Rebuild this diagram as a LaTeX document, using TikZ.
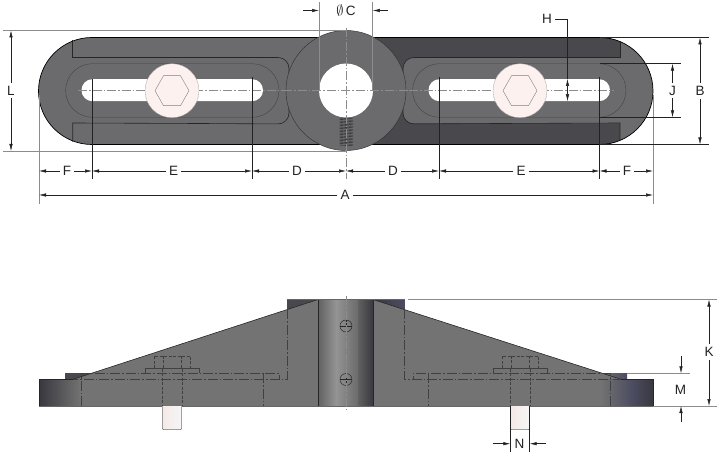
\documentclass[tikz,border=0pt]{standalone}
\usepackage{fontspec}
\setmainfont{Liberation Sans}
\usetikzlibrary{arrows.meta,positioning}
\definecolor{plategray}{HTML}{6B6B6D}
\definecolor{platedark}{HTML}{48484D}
\definecolor{sidegray}{HTML}{737373}
\definecolor{washerpink}{HTML}{FCF1EE}
\definecolor{extgray}{HTML}{8C8C8C}
\definecolor{inkgray}{HTML}{222222}
\definecolor{steelblue}{HTML}{4C4C62}
\definecolor{steeldark}{HTML}{38383F}
\tikzset{
  dimarrow/.style={-{Latex[length=7pt,width=3.4pt]},inkgray,line width=0.5pt},
  dimlabel/.style={text=inkgray,inner sep=3pt,font=\fontsize{13.5}{14}\selectfont},
  extline/.style={extgray,line width=0.8pt},
  tickline/.style={inkgray,line width=0.5pt},
  centerline/.style={black!45,line width=0.4pt,dash pattern=on 9pt off 2pt on 1.5pt off 2pt},
  hiddenline/.style={black!75,line width=0.4pt,dash pattern=on 10pt off 2pt on 1.5pt off 2pt},
  shortdash/.style={black!75,line width=0.4pt,dash pattern=on 3pt off 1.5pt},
  thinline/.style={black!75,line width=0.35pt},
  blockline/.style={black!85,line width=0.6pt}
}
\begin{document}
\begin{tikzpicture}[x=1pt,y=-1pt]
\useasboundingbox (0,0) rectangle (719,454);

% top view
\begin{scope}
\clip[rounded corners=53.5pt] (38.5,37.5) rectangle (653,144.5);
\fill[plategray] (38,37) rectangle (654,145);
\fill[platedark] (346,37) rectangle (620,145);
\fill[plategray,rounded corners=11pt] (403,57.5) rectangle (650,123.5);
\end{scope}
\draw[black,line width=0.7pt,rounded corners=53.5pt] (38.5,37.5) rectangle (653,144.5);
\draw[blockline] (72.7,40) -- (72.7,57.5) -- (200,57.5);
\draw[blockline] (72.7,142) -- (72.7,123) -- (200,123.5);
\draw[blockline,rounded corners=11pt] (200,57.5) -- (289,57.5) -- (289,124) -- (200,123.5);
\draw[blockline] (620,41) -- (620,57.5) -- (500,57.5);
\draw[blockline] (620,140) -- (620,123) -- (500,123.5);
\draw[blockline,rounded corners=11pt] (500,57.5) -- (403,57.5) -- (403,124) -- (500,123.5);
\foreach \cx in {92,439}
  \draw[thinline,rounded corners=26.8pt] (\cx-26.4,63.7) rectangle (\cx+187,117.3);
\foreach \cx in {92,439}
  \fill[white,rounded corners=10.9pt] (\cx-10.5,79.2) rectangle (\cx+171,101.2);

% center lines
\draw[centerline] (78,90.5) -- (283,90.5);
\draw[centerline] (409,90.5) -- (614,90.5);

\foreach \cx in {172,520} {
  \fill[washerpink,draw=gray!70,line width=0.3pt] (\cx,90.7) circle (27);
  \draw[black!50,line width=0.4pt] (\cx-17,90.7) -- (\cx-8.5,75.7) -- (\cx+8.5,75.7) -- (\cx+17,90.7) -- (\cx+8.5,105.7) -- (\cx-8.5,105.7) -- cycle;
}
\fill[plategray,draw=black!80,line width=0.45pt] (346,90.5) circle (60);
\fill[white] (346,90.5) circle (27);
\foreach \y in {118,119.5,...,146}
  \draw[black!85,line width=0.4pt] (339.5,\y) -- (353,\y+0.8);
\draw[centerline] (283,90.5) -- (409,90.5);
\draw[centerline] (346,28) -- (346,179);

% extension lines, top view
\draw[extline] (3,30.5) -- (346,30.5);
\draw[extline] (3,151) -- (346,151);
\draw[extline] (39,95) -- (39,204);
\draw[extline] (653,95) -- (653,204);
\draw[extline] (319,2) -- (319,90);
\draw[extline] (372.8,2) -- (372.8,90);
\draw[tickline] (92,79) -- (92,179);
\draw[tickline] (252,77) -- (252,179);
\draw[tickline] (439,77) -- (439,179);
\draw[tickline] (599.5,77) -- (599.5,179);
\draw[tickline] (600,37.5) -- (709,37.5);
\draw[tickline] (600,144.5) -- (709,144.5);
\draw[tickline] (600,63.7) -- (681,63.7);
\draw[tickline] (600,117.3) -- (681,117.3);

% dimensions, top view
\foreach \name/\x in {ra/39,rb/92,rc/252,rd/346,re/439,rf/599.5,rg/653}
  \coordinate (\name) at (\x,171);
\coordinate (ra2) at (39,195);
\coordinate (rg2) at (653,195);
\coordinate (ltop) at (11,30.5);
\coordinate (lbot) at (11,151);
\coordinate (btop) at (700,37.5);
\coordinate (bbot) at (700,144.5);
\coordinate (jtop) at (672.5,63.7);
\coordinate (jbot) at (672.5,117.3);
\coordinate (hcorner) at (567.5,19);
\coordinate (htop) at (567.5,79);
\coordinate (hbot) at (567.5,101.2);
\coordinate (hmid) at (567.5,90);
\coordinate (cleft) at (319,10.5);
\coordinate (cright) at (372.8,10.5);
\coordinate (cleftend) at (303,10.5);
\coordinate (crightend) at (388,10.5);

\node[dimlabel] (fleft) at (67,171){F};
\node[dimlabel] (eleft) at (173.5,171){E};
\node[dimlabel] (dleft) at (297,171){D};
\node[dimlabel] (dright) at (393,171){D};
\node[dimlabel] (eright) at (521,171){E};
\node[dimlabel] (fright) at (627,171){F};
\node[dimlabel] (atotal) at (345,195){A};
\node[dimlabel] (lheight) at (11,90.5){L};
\node[dimlabel] (bheight) at (700,91){B};
\node[dimlabel] (jheight) at (672.5,90.5){J};
\node[dimlabel] (hlabel) at (547,19){H};
\node[dimlabel] (clabel) at (346,10.5){$\emptyset$\,C};

\foreach \lab/\from/\to in {fleft/ra/rb,eleft/rb/rc,dleft/rc/rd,dright/rd/re,eright/re/rf,fright/rf/rg,atotal/ra2/rg2,lheight/ltop/lbot,bheight/btop/bbot,jheight/jtop/jbot} {
  \draw[dimarrow] (\lab) -- (\from);
  \draw[dimarrow] (\lab) -- (\to);
}
\draw[tickline] (hlabel) -- (hcorner) -- (htop);
\draw[dimarrow] (hmid) -- (htop);
\draw[dimarrow] (hmid) -- (hbot);
\draw[dimarrow] (cleftend) -- (cleft);
\draw[dimarrow] (crightend) -- (cright);

% side view
\fill[platedark] (287,299.5) rectangle (318,312);
\shade[left color=steeldark,right color=steelblue] (373,299.5) rectangle (404.5,312);
\fill[platedark] (65,373) rectangle (93,380);
\shade[left color=sidegray,right color=steelblue] (600,373) rectangle (627,380);
\fill[sidegray] (73,379.3) -- (318,299.5) -- (373,299.5) -- (621,379.3) -- cycle;
\draw[black!85,line width=0.6pt] (73,379.3) -- (318,299.5);
\draw[black!85,line width=0.6pt] (373,299.5) -- (621,379.3);
\fill[sidegray] (81,379.3) rectangle (610,406);
\shade[left color=steeldark,right color=sidegray] (39,379.3) rectangle (81,406);
\shade[left color=sidegray,right color=steelblue] (600,379.3) rectangle (632,406);
\shade[left color=steelblue,right color=steeldark] (632,379.3) rectangle (653,406);
\shade[left color=black!62,right color=black!42] (318,299.5) rectangle (336,406);
\shade[left color=black!42,right color=black!58] (336,299.5) rectangle (358,406);
\shade[left color=black!62,right color=steeldark] (358,299.5) rectangle (373,406);
\draw[black!85,line width=0.5pt] (318,299.5) -- (318,406);
\draw[black!85,line width=0.5pt] (373,299.5) -- (373,406);
\draw[black!60,line width=0.6pt] (39,406) -- (653,406);
\draw[black!85,line width=0.5pt] (39,406) -- (39,379.3) -- (73,379.3);
\draw[black!85,line width=0.5pt] (653,406) -- (653,379.3) -- (621,379.3);
\draw[black!60,line width=0.5pt] (287,299.5) -- (404.5,299.5);

% hidden lines, side view
\draw[hiddenline] (287,309) -- (287,379.3) -- (73,379.3);
\draw[hiddenline] (404.5,309) -- (404.5,379.3) -- (621,379.3);
\draw[hiddenline] (81,406) -- (81,373.3) -- (279,373.3) -- (279,379.3);
\draw[hiddenline] (610,406) -- (610,373.3) -- (413,373.3) -- (413,379.3);
\draw[hiddenline] (263,373.3) -- (263,406);
\draw[hiddenline] (428,373.3) -- (428,406);
\foreach \cx in {172,520} {
  \draw[thinline] (\cx-27,373) -- (\cx-27,368.5) -- (\cx+27,368.5) -- (\cx+27,373);
  \draw[shortdash] (\cx-18,368) -- (\cx-18,355.7) -- (\cx+18,355.7) -- (\cx+18,368);
  \draw[shortdash] (\cx-9,355.7) -- (\cx-9,368);
  \draw[shortdash] (\cx+9,355.7) -- (\cx+9,368);
  \draw[shortdash] (\cx-9.7,368.5) -- (\cx-9.7,406);
  \draw[shortdash] (\cx+9.7,368.5) -- (\cx+9.7,406);
  \shade[left color=washerpink!93!gray,middle color=washerpink,right color=white!93!gray] (\cx-9.7,406.5) rectangle (\cx+9.7,429.5);
  \draw[black!55,line width=0.5pt] (\cx-9.7,406.5) -- (\cx-9.7,428.5) -- (\cx-8.7,429.5) -- (\cx+8.7,429.5) -- (\cx+9.7,428.5) -- (\cx+9.7,406.5);
}
\foreach \sy in {326,379.5} {
  \draw[black!85,line width=0.45pt] (346,\sy) circle (6);
  \draw[black!85,line width=0.4pt] (340,\sy) -- (352,\sy);
  \draw[black!85,line width=0.4pt] (346,\sy-6) -- (346,\sy+6);
}
\draw[centerline] (346,296) -- (346,410);

% dimensions, side view
\draw[extline] (408,299.5) -- (717,299.5);
\draw[extline] (653,406) -- (717,406);
\draw[extline] (627,373.3) -- (690,373.3);
\draw[tickline] (510.3,406) -- (510.3,452);
\draw[tickline] (529.7,406) -- (529.7,452);
\coordinate (ktop) at (709,299.5);
\coordinate (kbot) at (709,406);
\coordinate (mup) at (681,356);
\coordinate (mupend) at (681,373.3);
\coordinate (mdown) at (681,422);
\coordinate (mdownend) at (681,406);
\coordinate (nleft) at (493,443.7);
\coordinate (nleftend) at (510.3,443.7);
\coordinate (nright) at (546,443.7);
\coordinate (nrightend) at (529.7,443.7);
\node[dimlabel] (kheight) at (709,352){K};
\node[dimlabel] (mheight) at (680.5,390){M};
\node[dimlabel] (ndia) at (519.5,444){N};
\draw[dimarrow] (kheight) -- (ktop);
\draw[dimarrow] (kheight) -- (kbot);
\draw[dimarrow] (mup) -- (mupend);
\draw[dimarrow] (mdown) -- (mdownend);
\draw[dimarrow] (nleft) -- (nleftend);
\draw[dimarrow] (nright) -- (nrightend);
\end{tikzpicture}
\end{document}
